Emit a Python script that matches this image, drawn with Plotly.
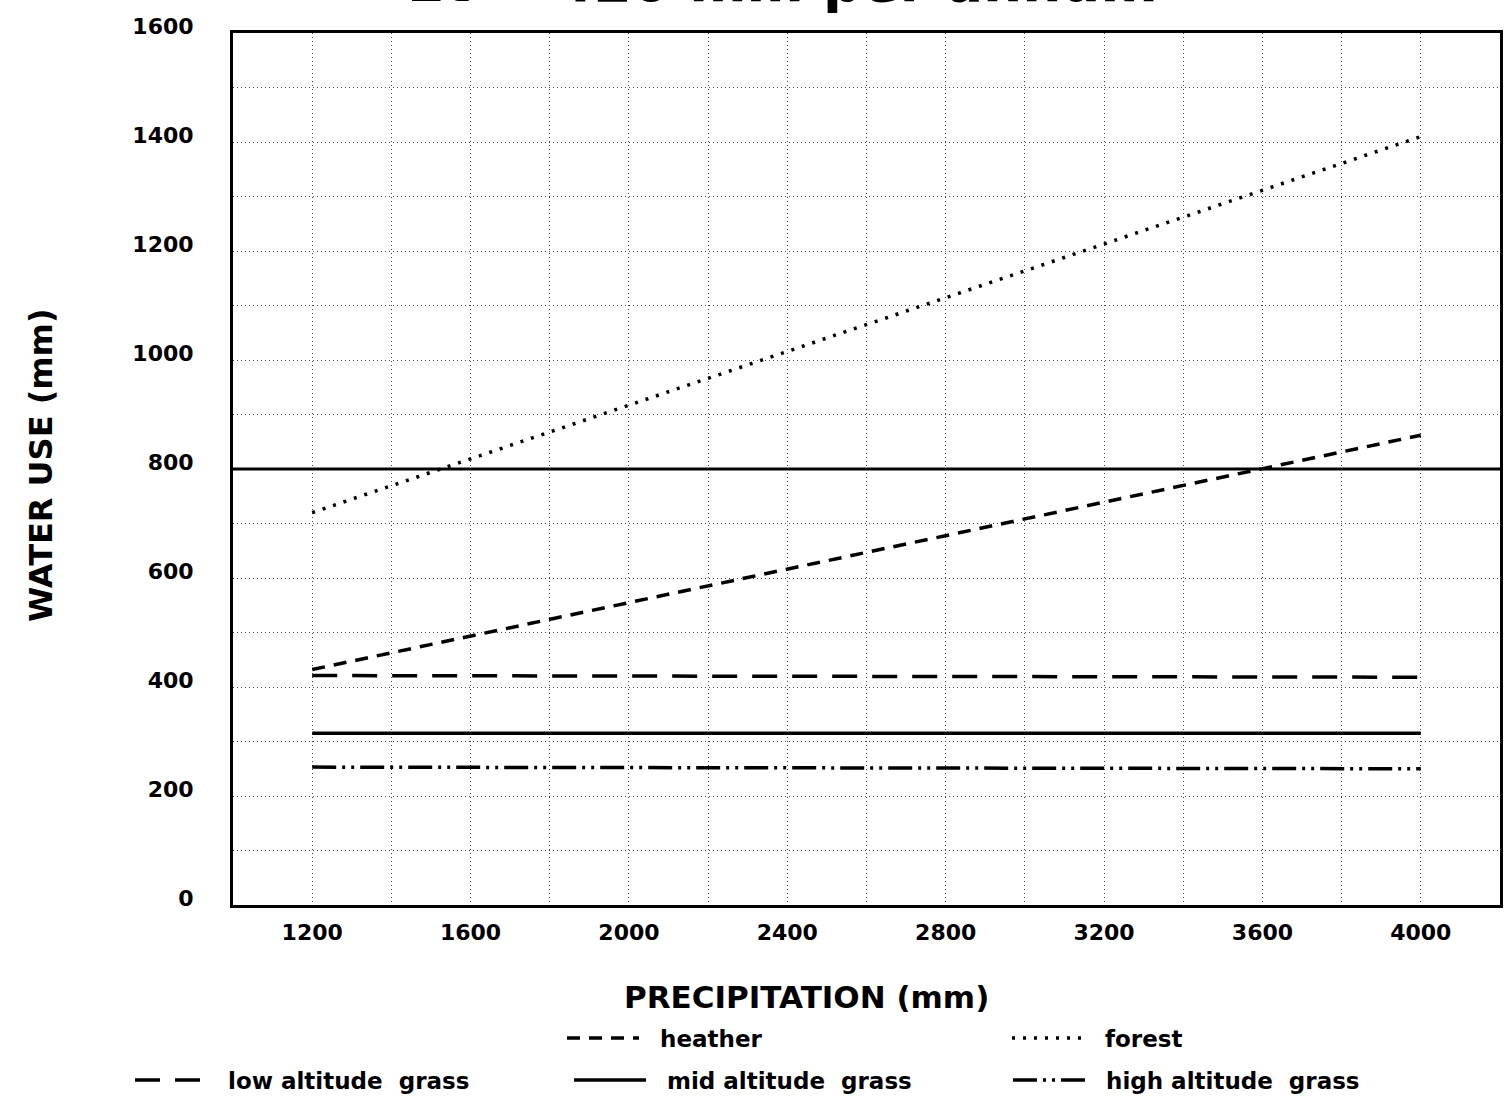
import plotly.graph_objects as go

# ---- data ----
precip = [1200, 4000]
forest = [720, 1410]
heather = [432, 862]
low_alt_grass = [421, 418]
mid_alt_grass = [315, 315]
high_alt_grass = [253, 250]
ref_x = [1000, 4200]
ref_y = [800, 800]

x_ticks = [1200, 1600, 2000, 2400, 2800, 3200, 3600, 4000]
y_ticks = [0, 200, 400, 600, 800, 1000, 1200, 1400, 1600]

FONT = "DejaVu Sans"
W, H = 1505, 1103
L, R, T, B = 233, 5, 33, 198
plot_w = W - L - R
plot_h = H - T - B


def px_x(px):
    return (px - L) / plot_w


def px_y(py):
    return (H - B - py) / plot_h


fig = go.Figure()

fig.add_trace(go.Scatter(x=ref_x, y=ref_y, mode="lines", showlegend=False,
                         line=dict(color="black", width=3), hoverinfo="skip"))

fig.add_trace(go.Scatter(x=precip, y=heather, mode="lines", name="  heather",
                         line=dict(color="black", width=3.5, dash="13px,9px"),
                         legend="legend"))
fig.add_trace(go.Scatter(x=precip, y=forest, mode="lines", name="  forest",
                         line=dict(color="black", width=3.5, dash="3px,8px"),
                         legend="legend"))
fig.add_trace(go.Scatter(x=precip, y=low_alt_grass, mode="lines", name="  low altitude  grass",
                         line=dict(color="black", width=3.5, dash="25px,15px"),
                         legend="legend2"))
fig.add_trace(go.Scatter(x=precip, y=mid_alt_grass, mode="lines", name="  mid altitude  grass",
                         line=dict(color="black", width=3.5),
                         legend="legend2"))
fig.add_trace(go.Scatter(x=precip, y=high_alt_grass, mode="lines", name="  high altitude  grass",
                         line=dict(color="black", width=3.5, dash="24px,6px,3px,6px,3px,6px"),
                         legend="legend2"))

grid_col = "#444444"
tick_font = dict(family=FONT, size=22, color="black", weight="bold")

fig.update_xaxes(
    range=[1000, 4200], tickvals=x_ticks, ticktext=[str(v) for v in x_ticks],
    showgrid=True, griddash="1px,3px", gridcolor=grid_col, gridwidth=1,
    minor=dict(dtick=200, tick0=1000, showgrid=True, griddash="1px,3px",
               gridcolor=grid_col, gridwidth=1),
    showline=True, linecolor="black", linewidth=3, mirror=True,
    zeroline=False, ticks="", ticklabelstandoff=6, automargin=False,
    tickfont=tick_font,
)
fig.update_yaxes(
    range=[0, 1600], tickvals=y_ticks, ticktext=[str(v) for v in y_ticks],
    showgrid=True, griddash="1px,3px", gridcolor=grid_col, gridwidth=1,
    minor=dict(dtick=100, tick0=0, showgrid=True, griddash="1px,3px",
               gridcolor=grid_col, gridwidth=1),
    showline=True, linecolor="black", linewidth=3, mirror=True,
    zeroline=False, ticks="", ticklabelstandoff=32, ticklabelshift=-7,
    automargin=False, tickfont=tick_font,
)

legend_font = dict(family=FONT, size=23, color="black", weight="bold")
fig.update_layout(
    width=W, height=H,
    margin=dict(l=L, r=R, t=T, b=B, autoexpand=False),
    paper_bgcolor="white", plot_bgcolor="white",
    font=dict(family=FONT, color="black"),
    legend=dict(orientation="h", x=px_x(562), y=px_y(1038),
                xanchor="left", yanchor="middle", entrywidth=358,
                entrywidthmode="pixels", itemwidth=72, font=legend_font,
                bgcolor="rgba(0,0,0,0)"),
    legend2=dict(orientation="h", x=px_x(130), y=px_y(1080),
                 xanchor="left", yanchor="middle", entrywidth=352,
                 entrywidthmode="pixels", itemwidth=72, font=legend_font,
                 bgcolor="rgba(0,0,0,0)"),
    annotations=[
        dict(text="Et = 420 mm per annum", xref="paper", yref="paper",
             x=px_x(782), y=px_y(15.5), xanchor="center", yanchor="bottom",
             showarrow=False,
             font=dict(family=FONT, size=55, color="black", weight="bold")),
        dict(text="PRECIPITATION (mm)", xref="paper", yref="paper",
             x=px_x(806), y=px_y(997), xanchor="center", yanchor="middle",
             showarrow=False,
             font=dict(family=FONT, size=31, color="black", weight="bold")),
        dict(text="WATER USE (mm)", xref="paper", yref="paper",
             x=px_x(41), y=px_y(465), xanchor="center", yanchor="middle",
             textangle=-90, showarrow=False,
             font=dict(family=FONT, size=32, color="black", weight="bold")),
    ],
)

fig.write_html("out.html",
               config={"displayModeBar": False},
               post_script="document.body.style.margin='0px';document.body.style.overflow='hidden';")
